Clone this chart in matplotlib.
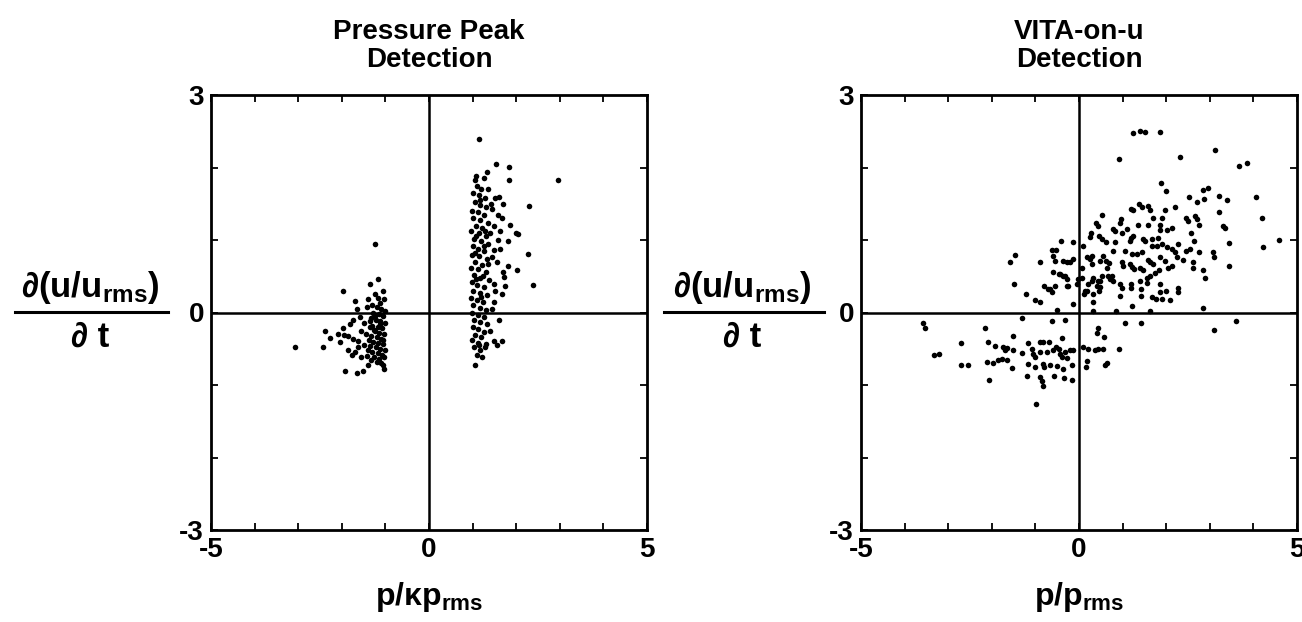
import matplotlib
matplotlib.use("Agg")
import matplotlib.pyplot as plt
from matplotlib.lines import Line2D
import numpy as np

plt.rcParams['font.family'] = ['Liberation Sans', 'DejaVu Sans']
plt.rcParams['mathtext.fontset'] = 'custom'
plt.rcParams['mathtext.rm'] = 'Liberation Sans:bold'
plt.rcParams['mathtext.it'] = 'Liberation Sans:bold'
plt.rcParams['mathtext.bf'] = 'Liberation Sans:bold'

# ---------------- data ----------------
titles = ["Pressure Peak\nDetection", "VITA-on-u\nDetection"]
xlabels = ["p/\u03bap$_{\\mathrm{rms}}$", "p/p$_{\\mathrm{rms}}$"]
ylabel_num = "\u2202(u/u$_{\\mathrm{rms}}$)"
ylabel_den = "\u2202 t"
x_ticks = [-5, -4, -3, -2, -1, 0, 1, 2, 3, 4, 5]
x_ticklabels = ["-5", "", "", "", "", "0", "", "", "", "", "5"]
y_ticks = [-3, -2, -1, 0, 1, 2, 3]
y_ticklabels = ["-3", "", "", "0", "", "", "3"]

# Pressure peak detection: negative-pressure cluster
pp_neg = [
    (-3.07, -0.47), (-2.42, -0.47), (-2.39, -0.26), (-2.27, -0.35), (-2.04, -0.41),
    (-1.98, 0.30), (-1.97, -0.21), (-2.08, -0.29), (-1.95, -0.31), (-1.85, -0.33),
    (-1.75, -0.36), (-1.62, -0.39), (-1.81, -0.16), (-1.74, -0.11), (-1.58, -0.06),
    (-1.70, 0.16), (-1.66, 0.05), (-1.43, 0.07), (-1.39, 0.18), (-1.24, 0.26),
    (-1.05, 0.29), (-1.12, 0.13), (-1.36, 0.40), (-1.16, 0.46), (-1.23, 0.95),
    (-1.85, -0.52), (-1.77, -0.59), (-1.62, -0.48), (-1.70, -0.55), (-1.93, -0.81),
    (-1.66, -0.84), (-1.52, -0.80), (-1.39, -0.73), (-1.05, -0.73), (-1.04, -0.78),
    (-1.55, -0.25), (-1.50, -0.15), (-1.45, -0.30), (-1.48, -0.45), (-1.42, -0.60),
    (-1.55, -0.62),
    (-1.30, 0.10), (-1.20, 0.08), (-1.10, 0.05), (-1.02, 0.02), (-1.28, 0.00),
    (-1.15, -0.02), (-1.05, -0.05), (-1.32, -0.08), (-1.22, -0.10), (-1.12, -0.12),
    (-1.02, -0.15), (-1.30, -0.18), (-1.18, -0.20), (-1.08, -0.22), (-1.25, -0.26),
    (-1.14, -0.28), (-1.03, -0.30), (-1.33, -0.32), (-1.20, -0.34), (-1.10, -0.36),
    (-1.28, -0.40), (-1.16, -0.42), (-1.05, -0.44), (-1.35, -0.46), (-1.22, -0.48),
    (-1.12, -0.50), (-1.02, -0.52), (-1.30, -0.54), (-1.18, -0.56), (-1.08, -0.58),
    (-1.26, -0.62), (-1.14, -0.64), (-1.04, -0.62), (-1.32, -0.66), (-1.20, -0.68),
    (-1.10, -0.70), (-1.27, -0.24), (-1.13, -0.16), (-1.06, -0.38), (-1.24, -0.05),
    (-1.35, -0.20), (-1.38, -0.38), (-1.40, -0.52), (-1.36, -0.12), (-1.04, 0.18),
    (-1.18, 0.20),
]

# Pressure peak detection: positive-pressure cluster
pp_pos = [
    (1.15, 2.39), (1.54, 2.05), (1.83, 2.01), (1.32, 1.94), (1.06, 1.83),
    (1.25, 1.85), (1.84, 1.83), (2.97, 1.83), (1.36, 1.71), (1.51, 1.58),
    (1.61, 1.59), (1.70, 1.49), (2.30, 1.47), (1.44, 1.43), (1.59, 1.34),
    (1.67, 1.30), (1.86, 1.21), (1.48, 1.20), (1.63, 1.13), (1.40, 1.10),
    (2.00, 1.09), (2.05, 1.08), (1.82, 0.99), (1.48, 0.86), (1.63, 0.88),
    (2.28, 0.81), (1.44, 0.76), (1.36, 0.67), (1.55, 0.70), (1.82, 0.64),
    (2.01, 0.58), (1.70, 0.56), (1.72, 0.49), (2.39, 0.38), (1.48, 0.40),
    (1.67, 0.26), (1.50, 0.15), (1.45, 0.05), (1.61, -0.10), (1.48, -0.39),
    (1.68, -0.39), (1.28, -0.48), (1.06, -0.72), (1.40, -0.25), (1.55, -0.45),
    (1.75, 0.36), (1.42, 1.50), (1.58, 1.00), (1.52, 0.30),
    (1.10, 1.75), (1.20, 1.70), (1.02, 1.65), (1.15, 1.62), (1.28, 1.58),
    (1.05, 1.52), (1.18, 1.48), (1.30, 1.45), (0.98, 1.40), (1.12, 1.38),
    (1.25, 1.34), (1.02, 1.30), (1.16, 1.27), (1.35, 1.24), (1.08, 1.20),
    (1.22, 1.16), (0.96, 1.12), (1.14, 1.10), (1.30, 1.06), (1.04, 1.02),
    (1.20, 0.98), (1.35, 0.95), (1.00, 0.92), (1.12, 0.88), (1.27, 0.85),
    (0.98, 0.80), (1.15, 0.78), (1.32, 0.74), (1.05, 0.70), (1.22, 0.66),
    (0.97, 0.62), (1.12, 0.60), (1.30, 0.56), (1.03, 0.52), (1.18, 0.48),
    (1.38, 0.45), (0.99, 0.42), (1.10, 0.38), (1.26, 0.35), (1.02, 0.30),
    (1.16, 0.27), (1.33, 0.24), (0.97, 0.20), (1.10, 0.17), (1.24, 0.14),
    (1.02, 0.10), (1.16, 0.06), (1.30, 0.03), (0.98, 0.00), (1.12, -0.03),
    (1.25, -0.06), (1.03, -0.10), (1.18, -0.13), (1.33, -0.16), (1.00, -0.20),
    (1.12, -0.23), (1.27, -0.27), (1.05, -0.31), (1.20, -0.34), (0.99, -0.38),
    (1.13, -0.42), (1.30, -0.44), (1.04, -0.48), (1.18, -0.52), (1.10, -0.58),
    (1.22, -0.62), (1.08, 1.88), (1.18, 1.55), (1.08, 1.05), (1.24, 0.50),
    (1.07, 0.46), (1.20, 0.22), (1.06, 0.82), (1.28, 1.12), (1.14, -0.45),
    (1.25, 0.92),
]

# VITA-on-u detection
vita_pts = [
    (-3.58, -0.14), (-3.53, -0.22), (-3.33, -0.58), (-3.21, -0.57), (-2.71, -0.42),
    (-2.71, -0.73), (-2.54, -0.73), (-2.15, -0.22), (-2.08, -0.40), (-1.93, -0.46),
    (-2.12, -0.68), (-1.97, -0.69), (-1.85, -0.66), (-1.77, -0.64), (-2.07, -0.93),
    (-1.74, -0.48), (-1.66, -0.49), (-1.70, -0.52), (-1.64, -0.65), (-1.53, -0.77),
    (-1.51, -0.52), (-1.51, -0.33), (-1.31, -0.07), (-1.31, -0.56), (-1.18, -0.42),
    (-1.08, -0.50), (-1.05, -0.57), (-1.01, -0.62), (-1.16, -0.71), (-1.01, -0.75),
    (-1.20, -0.88), (-0.99, -1.26), (-0.89, -0.40), (-0.82, -0.41), (-0.68, -0.41),
    (-0.63, -0.12), (-0.38, -0.35), (-0.32, -0.11), (-0.89, -0.55), (-0.74, -0.54),
    (-0.59, -0.52), (-0.47, -0.50), (-0.44, -0.57), (-0.32, -0.55), (-0.21, -0.52),
    (-0.13, -0.52), (-0.53, -0.47), (-0.38, -0.61), (-0.28, -0.63), (-0.82, -0.71),
    (-0.80, -0.75), (-0.67, -0.72), (-0.51, -0.74), (-0.36, -0.78), (-0.17, -0.73),
    (-0.89, -0.89), (-0.86, -0.95), (-0.83, -1.01), (-0.57, -0.88), (-0.34, -0.91),
    (-0.17, -0.93),
    (0.10, -0.48), (0.21, -0.50), (0.37, -0.52), (0.44, -0.51), (0.56, -0.50),
    (0.18, -0.67), (0.15, -0.75), (0.64, -0.69), (0.60, -0.72), (0.44, -0.22),
    (0.41, -0.28), (0.57, -0.34), (0.92, -0.51), (1.06, -0.15), (1.42, -0.15),
    (3.60, -0.12), (3.09, -0.24),
    (-0.42, 0.98), (-0.63, 0.86), (-0.53, 0.86), (-1.46, 0.80), (-1.58, 0.69),
    (-0.60, 0.78), (-0.55, 0.71), (-0.89, 0.70), (-0.28, 0.69), (-0.59, 0.56),
    (-0.47, 0.53), (-0.36, 0.51), (-0.28, 0.46), (-1.50, 0.39), (-0.80, 0.37),
    (-0.67, 0.33), (-0.55, 0.36), (-0.63, 0.28), (-0.26, 0.37), (-1.21, 0.26),
    (-1.01, 0.17), (-0.89, 0.14), (-0.51, 0.04), (-0.13, 0.97), (-0.36, 0.71),
    (-0.13, 0.74), (-0.44, 0.53), (-0.05, 0.39), (-0.13, 0.12), (-0.21, 0.69),
    (-0.28, 0.37), (-0.32, 0.51), (-0.02, 0.46), (-0.70, 0.32),
    (1.23, 2.47), (1.40, 2.51), (1.51, 2.49), (1.86, 2.49), (0.91, 2.12),
    (2.32, 2.14), (3.11, 2.24), (3.68, 2.02), (3.85, 2.06), (1.87, 1.78),
    (1.99, 1.68), (2.95, 1.72), (2.84, 1.69), (2.52, 1.60), (2.71, 1.53),
    (2.87, 1.57), (3.21, 1.61), (3.39, 1.55), (4.05, 1.59), (4.20, 1.31),
    (4.58, 1.00), (4.23, 0.90), (3.20, 1.38), (3.31, 1.20), (3.35, 1.16),
    (3.45, 0.96), (3.44, 0.64), (3.08, 0.83), (3.10, 0.77), (2.84, 0.59),
    (2.89, 0.48), (2.85, 0.06),
    (2.45, 1.30), (2.51, 1.26), (2.66, 1.33), (2.70, 1.29), (2.76, 1.21),
    (2.56, 1.10), (2.64, 0.99), (2.75, 0.83), (2.61, 0.70), (2.62, 0.62),
    (2.39, 0.72), (2.45, 0.85), (2.55, 0.87), (2.28, 0.94), (2.20, 1.45),
    (1.97, 1.42), (1.90, 1.30), (1.69, 1.30), (1.59, 1.21), (1.36, 1.21),
    (1.19, 1.43), (1.23, 1.41), (1.38, 1.50), (1.44, 1.45), (1.59, 1.47),
    (1.63, 1.41), (0.96, 1.29), (0.94, 1.24), (0.52, 1.35), (0.39, 1.24),
    (0.44, 1.20), (0.77, 1.15), (0.83, 1.13), (1.09, 1.15), (1.86, 1.21),
    (1.86, 1.14), (2.01, 1.14), (2.13, 1.16), (0.27, 1.10), (0.25, 1.04),
    (0.47, 1.06), (0.52, 1.01), (0.63, 0.97), (0.98, 1.09), (1.19, 1.03),
    (1.17, 0.99), (1.23, 1.06), (0.83, 0.97), (0.79, 0.85), (1.46, 1.01),
    (1.51, 0.98), (1.67, 1.01), (1.82, 1.03), (1.67, 0.92), (1.78, 0.92),
    (1.90, 0.94), (2.01, 0.90), (2.13, 0.87), (2.20, 0.83), (2.24, 0.76),
    (0.10, 0.92), (1.06, 0.85), (1.21, 0.81), (1.32, 0.81), (1.44, 0.83),
    (1.59, 0.72), (1.70, 0.67), (1.63, 0.69), (1.86, 0.76), (1.97, 0.71),
    (2.13, 0.64), (2.05, 0.62), (1.84, 0.58), (0.29, 0.78), (0.25, 0.74),
    (0.56, 0.78), (0.63, 0.71), (0.69, 0.68), (0.98, 0.69), (1.02, 0.64),
    (1.17, 0.67), (1.21, 0.63), (1.25, 0.60), (1.40, 0.62), (1.47, 0.58),
    (1.74, 0.55), (1.63, 0.51), (1.55, 0.48), (1.57, 0.41), (1.40, 0.44),
    (1.86, 0.39), (1.86, 0.28), (2.00, 0.30), (2.28, 0.34), (2.28, 0.28),
    (2.09, 0.17), (1.90, 0.18), (1.77, 0.18), (1.67, 0.21), (1.42, 0.32),
    (1.42, 0.23), (1.19, 0.39), (1.19, 0.34), (0.94, 0.39), (0.98, 0.34),
    (0.94, 0.23), (0.75, 0.51), (0.71, 0.46), (0.79, 0.44), (0.52, 0.51),
    (0.44, 0.44), (0.42, 0.37), (0.47, 0.30), (0.29, 0.44), (0.21, 0.39),
    (0.14, 0.30), (0.11, 0.26), (0.31, 0.14), (0.06, 0.62), (0.08, 0.48),
    (0.86, 0.02), (1.21, 0.09), (1.63, 0.02), (0.31, 0.02),
    (0.18, 0.76), (0.29, 0.67), (0.48, 0.71), (0.64, 0.62), (0.33, 0.48),
    (0.48, 0.44), (0.67, 0.51), (0.18, 0.30), (0.33, 0.25), (0.48, 0.35),
]

panel_data = [pp_neg + pp_pos, vita_pts]

# ---------------- figure ----------------
W, H = 1302, 622
fig = plt.figure(figsize=(W / 100, H / 100), dpi=100)

def fx(px):
    return px / W

def fy(py):
    return 1 - py / H

axes_px = [(211, 95, 647, 530), (861, 95, 1297, 530)]
ylab_cx = [90, 742]
line_span = [(15, 168), (664, 824)]

for i, (x0, y0, x1, y1) in enumerate(axes_px):
    ax = fig.add_axes([fx(x0), fy(y1), (x1 - x0) / W, (y1 - y0) / H])
    pts = np.array(panel_data[i])
    ax.scatter(pts[:, 0], pts[:, 1], s=16, c='black', linewidths=0, zorder=3)
    ax.axhline(0, color='black', lw=1.8, zorder=2)
    ax.axvline(0, color='black', lw=1.8, zorder=2)
    ax.set_xlim(-5, 5)
    ax.set_ylim(-3, 3)
    ax.set_xticks(x_ticks)
    ax.set_xticklabels(x_ticklabels, fontsize=20, fontweight='bold')
    ax.set_yticks(y_ticks)
    ax.set_yticklabels(y_ticklabels, fontsize=20, fontweight='bold')
    ax.tick_params(direction='in', length=5, width=1.3, top=True, right=True,
                   pad=5)
    for sp in ax.spines.values():
        sp.set_linewidth(2.0)
    ax.set_title(titles[i], fontsize=20, fontweight='bold', linespacing=1.1, pad=20)
    ax.set_xlabel(xlabels[i], fontsize=23, fontweight='bold', labelpad=12)

    cx = ylab_cx[i]
    fig.text(fx(cx), fy(288), ylabel_num, fontsize=25, fontweight='bold',
             ha='center', va='center')
    fig.text(fx(cx), fy(337), ylabel_den, fontsize=25, fontweight='bold',
             ha='center', va='center')
    a, b = line_span[i]
    fig.add_artist(Line2D([fx(a), fx(b)], [fy(312), fy(312)],
                          transform=fig.transFigure, color='black', lw=2.2))

fig.savefig("out.png", dpi=100)
